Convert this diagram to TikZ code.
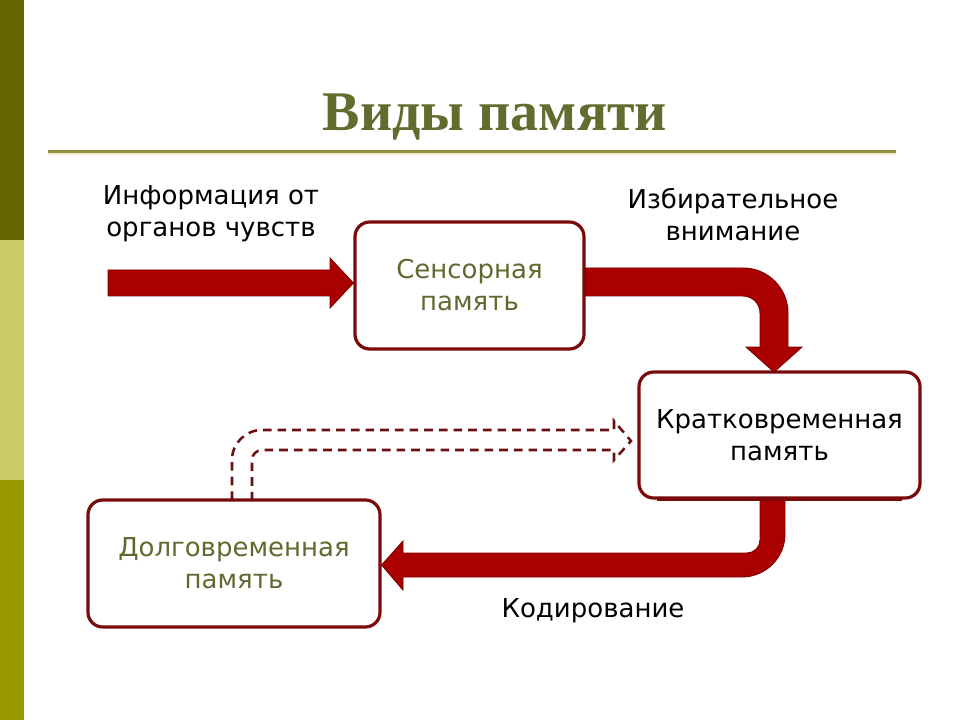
\documentclass[tikz,border=0pt]{standalone}
\usepackage{fontspec}
\usetikzlibrary{calc}
\setmainfont{DejaVu Sans}
\newfontfamily\titlefont{Liberation Serif}
\definecolor{bardark}{HTML}{666600}
\definecolor{barlight}{HTML}{CCCC66}
\definecolor{barolive}{HTML}{999900}
\definecolor{titlecol}{HTML}{636B2F}
\definecolor{rulecol}{HTML}{8E8E40}
\definecolor{ruleshadow}{HTML}{EEEECC}
\definecolor{boxred}{HTML}{7A0A0A}
\definecolor{arrowfill}{HTML}{AA0000}
\definecolor{arrowedge}{HTML}{7F0000}
\definecolor{dashcol}{HTML}{6A1010}
\definecolor{olivetext}{HTML}{5F6A30}
\tikzset{
  memobox/.style={draw=boxred, line width=2.4pt, rounded corners=11pt, fill=white,
    align=center, font=\fontsize{19.5}{24}\selectfont, inner sep=0pt},
  bigarrow/.style={fill=arrowfill, draw=arrowedge, line width=0.7pt, line join=miter},
  hollowarrow/.style={draw=dashcol, line width=1.9pt, dash pattern=on 6.5pt off 4.5pt},
  lbl/.style={align=center, font=\fontsize{19.5}{24}\selectfont, text=black, inner sep=0pt}
}
\begin{document}
\begin{tikzpicture}[x=0.75pt,y=-0.75pt]
\useasboundingbox (0,0) rectangle (960,720);
\fill[white] (0,0) rectangle (960,720);
% side bar
\fill[bardark] (0,0) rectangle (24,240);
\fill[barlight] (0,240) rectangle (24,480);
\fill[barolive] (0,480) rectangle (24,720);
% title
\node[anchor=base, text=titlecol, font=\titlefont\bfseries\fontsize{42}{48}\selectfont, inner sep=0pt] (title) at (495,131) {Виды памяти};
\draw[ruleshadow, line width=3pt] (48,153) -- (896,153);
\draw[rulecol, line width=1.8pt] (48,151.5) -- (896,151.5);
% boxes
\node[memobox, minimum width=171.75pt, minimum height=95.25pt, text=olivetext] (sens) at (469.5,285.5) {Сенсорная\\память};
\node[memobox, minimum width=210.75pt, minimum height=94.5pt, text=black] (stm) at (779.5,435) {Кратковременная\\память};
\node[memobox, minimum width=219pt, minimum height=95.25pt, text=olivetext] (ltm) at (234,563.5) {Долговременная\\память};
% labels
\node[lbl] (info) at (211,214) {Информация от\\органов чувств};
\node[lbl] (attn) at (733,215) {Избирательное\\внимание};
\node[lbl] (code) at (593,611) {Кодирование};
% input arrow
\coordinate (in) at (108,283);
\fill[bigarrow] (in) ++(0,-13) -- (330,270) -- (330,258) -- (sens.west |- in) -- (330,308) -- (330,296) -- (108,296) -- cycle;
% sensory -> short-term
\fill[bigarrow] (sens.east |- 0,268) -- (743,268) .. controls (767.9,268) and (788,288.1) .. (788,313)
  -- (788,347) -- (802,347) -- (774,372) -- (746,347) -- (760,347) -- (760,313)
  .. controls (760,303.6) and (752.4,296) .. (743,296) -- (sens.east |- 0,296) -- cycle;
% short-term -> long-term
\fill[bigarrow] (760,498) -- (785,498) -- (785,534) .. controls (785,557.7) and (765.7,577) .. (742,577)
  -- (403,577) -- (403,590) -- (ltm.east |- 0,565) -- (403,541) -- (403,553) -- (747,553)
  .. controls (754.2,553) and (760,547.2) .. (760,540) -- cycle;
\draw[boxred, line width=2.4pt] ($(stm.south west)+(20,0)$) -- ($(stm.south east)+(-20,0)$);
% long-term -> short-term (dashed)
\draw[hollowarrow, line join=miter] (232,500) -- (232,460) .. controls (232,443.4) and (245.4,430) .. (262,430)
  -- (614,430) -- (614,421) -- (631,441) -- (614,460) -- (614,450) -- (262,450)
  .. controls (256.5,450) and (252,454.5) .. (252,460) -- (252,500);
\end{tikzpicture}
\end{document}
